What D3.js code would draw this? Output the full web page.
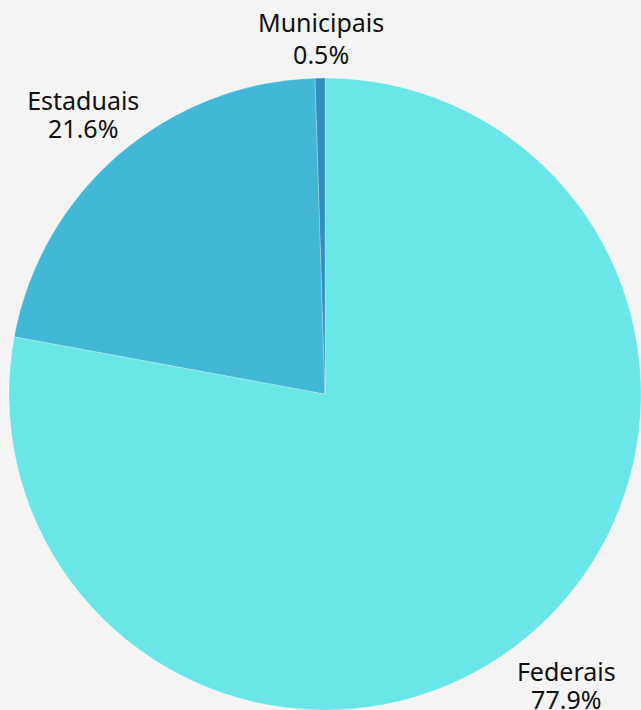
<!DOCTYPE html>
<html>
<head>
<meta charset="utf-8">
<script src="https://cdn.jsdelivr.net/npm/d3@7"></script>
<style>
    html, body { margin: 0; padding: 0; background: #f4f4f4; }
    svg { display: block; }
    .label { font-family: "Noto Sans", "Open Sans", sans-serif; font-size: 25px; fill: #111; }
</style>
</head>
<body>
<div id="chart"></div>
<script>
const categories = ["Federais", "Estaduais", "Municipais"];
const shares = [77.9, 21.6, 0.5];
const colours = ["#6ae6e9", "#43b8d6", "#2e8fc0"];

const width = 641, height = 710;
const cx = 325, cy = 394, radius = 316;
const topLimit = 32;

const data = categories.map((c, i) => ({label: c, value: shares[i]}));

const svg = d3.select("#chart")
    .append("svg")
        .attr("width", width)
        .attr("height", height)
    .append("g")
        .attr("transform", `translate(${cx},${cy})`);

const pie = d3.pie().sort(null).value(d => d.value);
const arc = d3.arc().innerRadius(0).outerRadius(radius);
const labelArc = d3.arc().innerRadius(374).outerRadius(374);
const colour = d3.scaleOrdinal().domain(categories).range(colours);

const arcs = pie(data);

svg.selectAll(".slice").data(arcs)
    .join("path")
        .attr("class", "slice")
        .attr("d", arc)
        .attr("fill", d => colour(d.data.label))
        .attr("stroke", "#ffffff")
        .attr("stroke-opacity", 0.4)
        .attr("stroke-width", 0.6);

// label anchor on an outer arc, pushed down if it would leave the top
function labelPos(d) {
    const [x, y] = labelArc.centroid(d);
    const clamped = y < topLimit - cy;
    return {x: x + 2, y: clamped ? topLimit - cy : y, gap: clamped ? 32 : 28};
}

const labels = svg.selectAll(".label").data(arcs)
    .join("text")
        .attr("class", "label")
        .attr("text-anchor", "middle");

labels.append("tspan")
    .attr("x", d => labelPos(d).x)
    .attr("y", d => labelPos(d).y)
    .text(d => d.data.label);
labels.append("tspan")
    .attr("x", d => labelPos(d).x)
    .attr("y", d => labelPos(d).y + labelPos(d).gap)
    .text(d => d.data.value.toFixed(1) + "%");
</script>
</body>
</html>
